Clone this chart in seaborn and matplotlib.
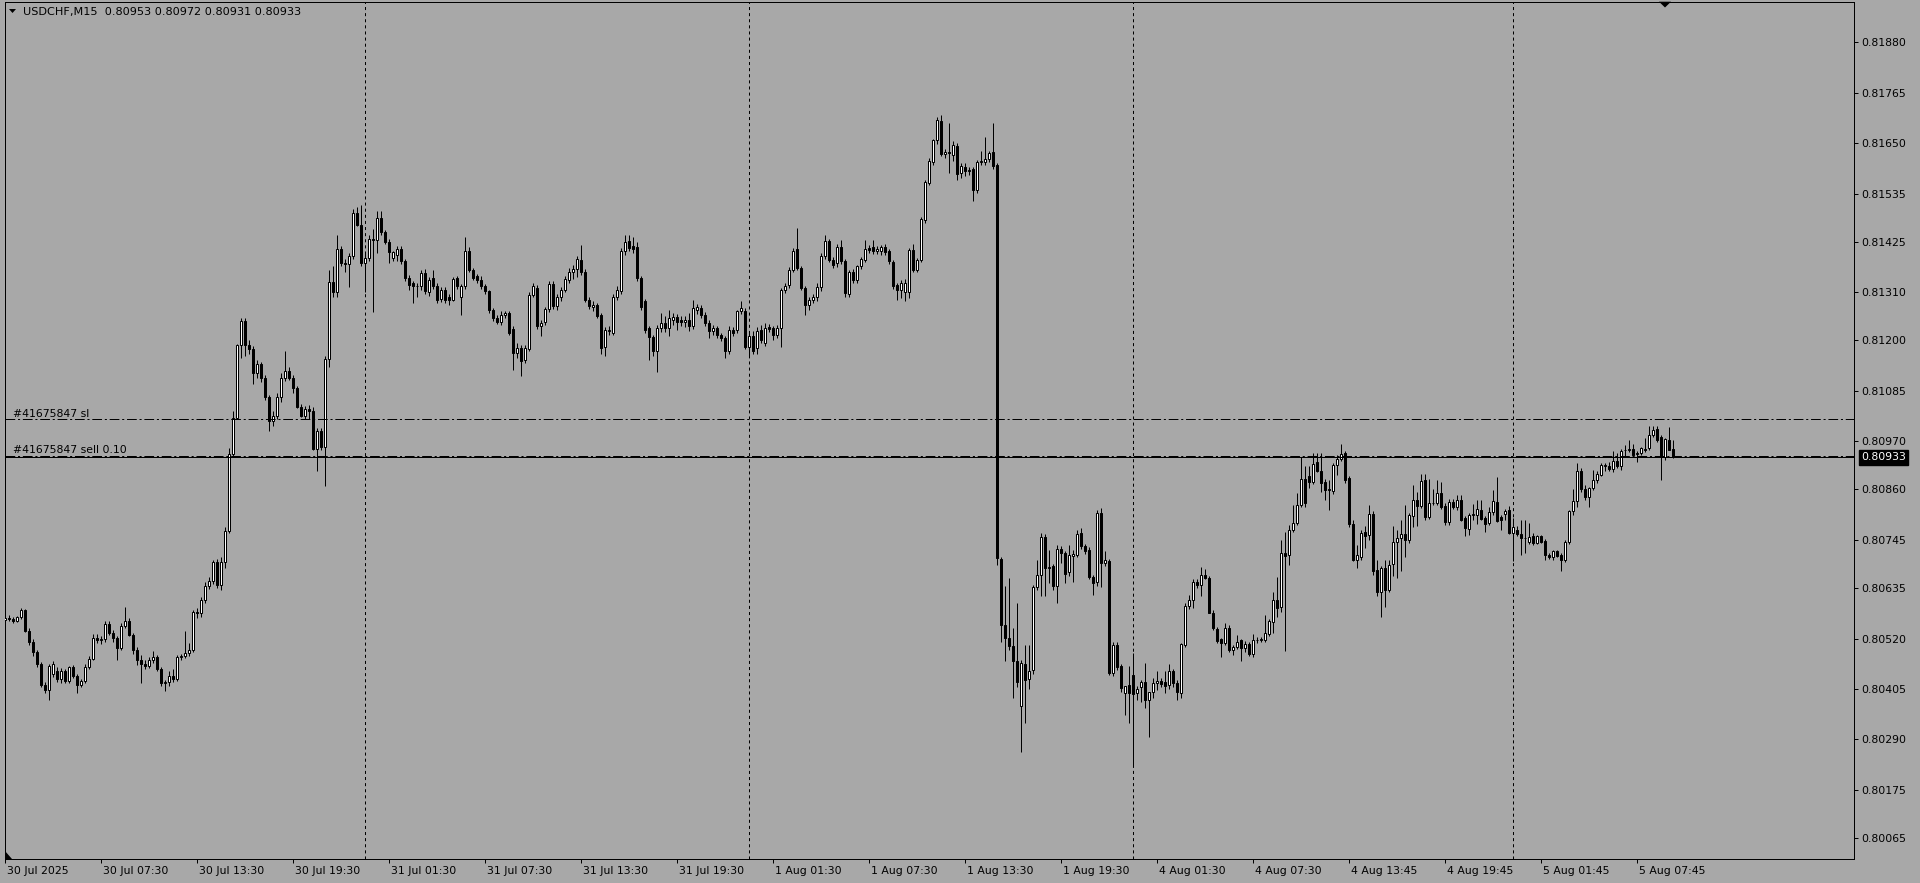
import numpy as np
import pandas as pd
import matplotlib
matplotlib.use("Agg")
import matplotlib.pyplot as plt
import matplotlib.transforms as mtransforms
from matplotlib.patches import Polygon
import seaborn as sns

# ---------------- data ----------------
title_text = "USDCHF,M15  0.80953 0.80972 0.80931 0.80933"

opens = [
    0.80563,0.80566,0.80564,0.80561,0.80568,0.80584,0.80537,0.80513,0.80490,0.80462,
    0.80415,0.80403,0.80440,0.80447,0.80427,0.80447,0.80423,0.80455,0.80435,0.80415,
    0.80423,0.80455,0.80474,0.80521,0.80517,0.80519,0.80553,0.80533,0.80521,0.80498,
    0.80549,0.80561,0.80529,0.80494,0.80470,0.80462,0.80458,0.80470,0.80478,0.80451,
    0.80419,0.80420,0.80435,0.80427,0.80478,0.80480,0.80486,0.80494,0.80580,0.80578,
    0.80608,0.80639,0.80651,0.80694,0.80643,0.80694,0.80765,0.80942,0.81024,0.81189,
    0.81244,0.81189,0.81181,0.81126,0.81146,0.81114,0.81071,0.81016,0.81028,0.81071,
    0.81114,0.81130,0.81114,0.81091,0.81048,0.81028,0.81044,0.81040,0.80953,0.80993,
    0.80957,0.81157,0.81334,0.81311,0.81409,0.81377,0.81374,0.81393,0.81491,0.81464,
    0.81377,0.81389,0.81432,0.81430,0.81480,0.81448,0.81425,0.81389,0.81395,0.81409,
    0.81381,0.81342,0.81330,0.81323,0.81323,0.81354,0.81310,0.81342,0.81323,0.81294,
    0.81316,0.81300,0.81293,0.81342,0.81300,0.81323,0.81403,0.81361,0.81346,0.81338,
    0.81323,0.81312,0.81270,0.81251,0.81243,0.81259,0.81262,0.81226,0.81171,0.81183,
    0.81156,0.81180,0.81304,0.81319,0.81232,0.81241,0.81271,0.81329,0.81278,0.81298,
    0.81316,0.81338,0.81357,0.81362,0.81384,0.81357,0.81293,0.81276,0.81281,0.81259,
    0.81186,0.81221,0.81218,0.81299,0.81312,0.81403,0.81426,0.81416,0.81414,0.81342,
    0.81291,0.81228,0.81208,0.81175,0.81228,0.81240,0.81228,0.81247,0.81253,0.81247,
    0.81243,0.81247,0.81232,0.81270,0.81274,0.81259,0.81240,0.81221,0.81228,0.81213,
    0.81205,0.81175,0.81224,0.81224,0.81266,0.81266,0.81186,0.81209,0.81183,0.81224,
    0.81194,0.81230,0.81228,0.81213,0.81228,0.81316,0.81327,0.81361,0.81408,0.81365,
    0.81319,0.81281,0.81293,0.81299,0.81322,0.81392,0.81426,0.81384,0.81376,0.81413,
    0.81380,0.81307,0.81357,0.81338,0.81369,0.81384,0.81411,0.81412,0.81403,0.81403,
    0.81414,0.81403,0.81379,0.81327,0.81316,0.81310,0.81310,0.81407,0.81361,0.81384,
    0.81475,0.81560,0.81608,0.81656,0.81701,0.81626,0.81629,0.81623,0.81644,0.81582,
    0.81595,0.81586,0.81591,0.81542,0.81608,0.81608,0.81614,0.81629,0.81600,0.80702,
    0.80551,0.80521,0.80503,0.80468,0.80365,0.80462,0.80427,0.80449,0.80637,0.80665,
    0.80751,0.80682,0.80686,0.80640,0.80725,0.80715,0.80671,0.80709,0.80711,0.80760,
    0.80730,0.80722,0.80661,0.80648,0.80806,0.80693,0.80697,0.80442,0.80506,0.80458,
    0.80395,0.80414,0.80437,0.80395,0.80409,0.80420,0.80380,0.80399,0.80418,0.80424,
    0.80420,0.80414,0.80445,0.80418,0.80395,0.80506,0.80595,0.80607,0.80650,0.80641,
    0.80665,0.80658,0.80579,0.80541,0.80518,0.80509,0.80544,0.80494,0.80500,0.80516,
    0.80498,0.80508,0.80485,0.80516,0.80517,0.80516,0.80531,0.80557,0.80608,0.80591,
    0.80716,0.80711,0.80768,0.80783,0.80825,0.80884,0.80890,0.80878,0.80922,0.80903,
    0.80878,0.80858,0.80856,0.80916,0.80929,0.80944,0.80886,0.80781,0.80700,0.80707,
    0.80762,0.80757,0.80804,0.80677,0.80625,0.80681,0.80631,0.80690,0.80740,0.80749,
    0.80758,0.80744,0.80800,0.80836,0.80823,0.80882,0.80798,0.80829,0.80830,0.80852,
    0.80823,0.80785,0.80831,0.80820,0.80836,0.80795,0.80770,0.80802,0.80802,0.80814,
    0.80796,0.80783,0.80808,0.80832,0.80797,0.80804,0.80814,0.80760,0.80768,0.80759,
    0.80749,0.80740,0.80753,0.80739,0.80753,0.80743,0.80711,0.80706,0.80720,0.80711,
    0.80700,0.80741,0.80812,0.80834,0.80903,0.80861,0.80843,0.80863,0.80881,0.80894,
    0.80914,0.80914,0.80906,0.80924,0.80914,0.80950,0.80951,0.80953,0.80941,0.80943,
    0.80952,0.80954,0.80985,0.80998,0.80979,0.80935,0.80972,0.80953,
]

highs = [
    0.80572,0.80574,0.80570,0.80572,0.80590,0.80588,0.80545,0.80518,0.80494,0.80466,
    0.80420,0.80462,0.80468,0.80455,0.80452,0.80450,0.80458,0.80460,0.80440,0.80428,
    0.80462,0.80480,0.80530,0.80530,0.80525,0.80560,0.80560,0.80540,0.80526,0.80555,
    0.80592,0.80566,0.80533,0.80500,0.80482,0.80470,0.80478,0.80492,0.80482,0.80455,
    0.80425,0.80445,0.80450,0.80482,0.80484,0.80537,0.80510,0.80584,0.80590,0.80615,
    0.80648,0.80660,0.80700,0.80702,0.80705,0.80775,0.80955,0.81040,0.81192,0.81250,
    0.81250,0.81200,0.81188,0.81155,0.81150,0.81120,0.81076,0.81040,0.81080,0.81125,
    0.81176,0.81140,0.81120,0.81095,0.81055,0.81050,0.81052,0.81048,0.81000,0.81000,
    0.81165,0.81360,0.81370,0.81440,0.81415,0.81385,0.81400,0.81500,0.81505,0.81510,
    0.81400,0.81440,0.81455,0.81495,0.81495,0.81452,0.81432,0.81405,0.81415,0.81415,
    0.81385,0.81350,0.81335,0.81330,0.81360,0.81362,0.81345,0.81361,0.81330,0.81322,
    0.81322,0.81305,0.81345,0.81348,0.81328,0.81437,0.81412,0.81366,0.81352,0.81346,
    0.81328,0.81316,0.81274,0.81258,0.81268,0.81266,0.81268,0.81232,0.81195,0.81190,
    0.81190,0.81310,0.81330,0.81326,0.81246,0.81276,0.81335,0.81336,0.81305,0.81322,
    0.81346,0.81365,0.81372,0.81392,0.81417,0.81362,0.81300,0.81290,0.81286,0.81263,
    0.81230,0.81232,0.81305,0.81325,0.81410,0.81440,0.81440,0.81437,0.81425,0.81348,
    0.81295,0.81232,0.81212,0.81236,0.81262,0.81255,0.81270,0.81262,0.81260,0.81255,
    0.81256,0.81262,0.81293,0.81282,0.81280,0.81265,0.81247,0.81236,0.81232,0.81218,
    0.81210,0.81232,0.81230,0.81270,0.81289,0.81274,0.81216,0.81222,0.81230,0.81235,
    0.81240,0.81238,0.81234,0.81236,0.81320,0.81330,0.81368,0.81410,0.81456,0.81370,
    0.81325,0.81300,0.81306,0.81330,0.81400,0.81440,0.81432,0.81390,0.81420,0.81428,
    0.81385,0.81360,0.81362,0.81372,0.81390,0.81428,0.81418,0.81428,0.81416,0.81418,
    0.81420,0.81408,0.81384,0.81332,0.81338,0.81340,0.81410,0.81420,0.81388,0.81482,
    0.81565,0.81615,0.81660,0.81710,0.81715,0.81636,0.81696,0.81655,0.81650,0.81605,
    0.81605,0.81596,0.81596,0.81612,0.81631,0.81665,0.81632,0.81696,0.81605,0.80707,
    0.80639,0.80658,0.80544,0.80601,0.80470,0.80506,0.80506,0.80642,0.80699,0.80760,
    0.80758,0.80722,0.80690,0.80734,0.80732,0.80720,0.80734,0.80722,0.80768,0.80772,
    0.80736,0.80728,0.80666,0.80814,0.80817,0.80720,0.80702,0.80513,0.80512,0.80462,
    0.80412,0.80458,0.80487,0.80411,0.80425,0.80465,0.80399,0.80430,0.80447,0.80430,
    0.80445,0.80462,0.80450,0.80425,0.80510,0.80600,0.80620,0.80655,0.80655,0.80683,
    0.80678,0.80662,0.80585,0.80546,0.80522,0.80555,0.80550,0.80506,0.80528,0.80520,
    0.80515,0.80512,0.80531,0.80523,0.80524,0.80574,0.80565,0.80627,0.80661,0.80745,
    0.80764,0.80779,0.80825,0.80852,0.80935,0.80913,0.80914,0.80943,0.80943,0.80943,
    0.80884,0.80882,0.80920,0.80939,0.80964,0.80947,0.80890,0.80791,0.80734,0.80768,
    0.80776,0.80825,0.80810,0.80700,0.80685,0.80700,0.80700,0.80777,0.80768,0.80791,
    0.80825,0.80806,0.80871,0.80854,0.80896,0.80895,0.80884,0.80862,0.80882,0.80878,
    0.80828,0.80838,0.80838,0.80848,0.80848,0.80800,0.80806,0.80827,0.80836,0.80836,
    0.80800,0.80820,0.80859,0.80888,0.80802,0.80815,0.80823,0.80795,0.80776,0.80791,
    0.80791,0.80783,0.80760,0.80756,0.80757,0.80748,0.80715,0.80722,0.80722,0.80715,
    0.80745,0.80814,0.80861,0.80920,0.80908,0.80871,0.80866,0.80905,0.80901,0.80920,
    0.80920,0.80922,0.80947,0.80944,0.80952,0.80962,0.80972,0.80964,0.80948,0.80958,
    0.80977,0.81004,0.81005,0.81005,0.80985,0.80978,0.81002,0.80972,
]

lows = [
    0.80555,0.80560,0.80556,0.80558,0.80565,0.80535,0.80505,0.80480,0.80455,0.80410,
    0.80396,0.80380,0.80432,0.80420,0.80418,0.80418,0.80418,0.80430,0.80396,0.80410,
    0.80418,0.80450,0.80470,0.80510,0.80508,0.80512,0.80528,0.80512,0.80470,0.80494,
    0.80545,0.80525,0.80485,0.80460,0.80419,0.80450,0.80452,0.80465,0.80445,0.80412,
    0.80400,0.80412,0.80420,0.80424,0.80472,0.80476,0.80480,0.80490,0.80566,0.80570,
    0.80600,0.80632,0.80645,0.80636,0.80630,0.80680,0.80760,0.80935,0.81020,0.81160,
    0.81165,0.81170,0.81100,0.81115,0.81105,0.81065,0.80993,0.81005,0.81020,0.81060,
    0.81108,0.81110,0.81080,0.81045,0.81025,0.81020,0.81020,0.80950,0.80902,0.80950,
    0.80867,0.81140,0.81300,0.81300,0.81370,0.81355,0.81322,0.81385,0.81460,0.81370,
    0.81310,0.81380,0.81264,0.81400,0.81440,0.81420,0.81377,0.81380,0.81382,0.81375,
    0.81335,0.81315,0.81285,0.81300,0.81316,0.81305,0.81302,0.81318,0.81285,0.81288,
    0.81286,0.81280,0.81290,0.81318,0.81259,0.81318,0.81355,0.81338,0.81332,0.81318,
    0.81305,0.81262,0.81245,0.81238,0.81236,0.81250,0.81212,0.81133,0.81160,0.81118,
    0.81148,0.81175,0.81298,0.81225,0.81210,0.81236,0.81265,0.81272,0.81270,0.81290,
    0.81310,0.81330,0.81340,0.81345,0.81350,0.81288,0.81272,0.81268,0.81252,0.81168,
    0.81165,0.81212,0.81212,0.81292,0.81306,0.81395,0.81405,0.81400,0.81335,0.81270,
    0.81218,0.81156,0.81165,0.81129,0.81220,0.81220,0.81210,0.81236,0.81224,0.81232,
    0.81230,0.81222,0.81226,0.81260,0.81250,0.81232,0.81205,0.81212,0.81205,0.81198,
    0.81160,0.81168,0.81210,0.81218,0.81260,0.81180,0.81165,0.81168,0.81170,0.81195,
    0.81188,0.81220,0.81200,0.81205,0.81186,0.81308,0.81320,0.81355,0.81360,0.81315,
    0.81259,0.81270,0.81285,0.81290,0.81312,0.81385,0.81378,0.81365,0.81368,0.81375,
    0.81300,0.81300,0.81332,0.81330,0.81362,0.81378,0.81400,0.81398,0.81396,0.81395,
    0.81395,0.81375,0.81318,0.81293,0.81296,0.81290,0.81296,0.81355,0.81355,0.81378,
    0.81468,0.81555,0.81600,0.81648,0.81620,0.81615,0.81583,0.81610,0.81567,0.81570,
    0.81575,0.81578,0.81517,0.81536,0.81600,0.81600,0.81608,0.81590,0.80688,0.80513,
    0.80468,0.80494,0.80384,0.80410,0.80262,0.80328,0.80405,0.80440,0.80630,0.80616,
    0.80617,0.80646,0.80631,0.80602,0.80692,0.80646,0.80662,0.80648,0.80705,0.80725,
    0.80712,0.80655,0.80620,0.80640,0.80637,0.80685,0.80436,0.80435,0.80449,0.80397,
    0.80346,0.80328,0.80228,0.80380,0.80376,0.80361,0.80295,0.80384,0.80403,0.80410,
    0.80395,0.80405,0.80410,0.80379,0.80384,0.80500,0.80588,0.80589,0.80635,0.80616,
    0.80655,0.80578,0.80540,0.80510,0.80479,0.80505,0.80490,0.80483,0.80495,0.80468,
    0.80490,0.80480,0.80478,0.80510,0.80512,0.80512,0.80525,0.80532,0.80570,0.80580,
    0.80491,0.80688,0.80764,0.80779,0.80821,0.80820,0.80863,0.80872,0.80900,0.80855,
    0.80836,0.80814,0.80850,0.80894,0.80925,0.80874,0.80775,0.80696,0.80681,0.80700,
    0.80726,0.80745,0.80665,0.80617,0.80569,0.80593,0.80625,0.80662,0.80658,0.80673,
    0.80707,0.80738,0.80774,0.80777,0.80818,0.80790,0.80792,0.80824,0.80825,0.80815,
    0.80780,0.80779,0.80815,0.80814,0.80788,0.80754,0.80757,0.80791,0.80782,0.80790,
    0.80764,0.80778,0.80802,0.80785,0.80768,0.80791,0.80758,0.80696,0.80753,0.80711,
    0.80715,0.80735,0.80734,0.80736,0.80738,0.80700,0.80701,0.80700,0.80705,0.80675,
    0.80694,0.80736,0.80802,0.80820,0.80855,0.80836,0.80821,0.80858,0.80875,0.80890,
    0.80901,0.80902,0.80900,0.80910,0.80905,0.80935,0.80945,0.80935,0.80922,0.80938,
    0.80945,0.80950,0.80980,0.80968,0.80882,0.80928,0.80950,0.80931,
]

closes = [
    0.80566,0.80564,0.80561,0.80568,0.80584,0.80537,0.80513,0.80490,0.80462,0.80415,
    0.80403,0.80458,0.80462,0.80427,0.80447,0.80423,0.80455,0.80435,0.80415,0.80423,
    0.80455,0.80474,0.80521,0.80517,0.80519,0.80553,0.80533,0.80521,0.80498,0.80549,
    0.80561,0.80529,0.80494,0.80470,0.80462,0.80458,0.80470,0.80478,0.80451,0.80419,
    0.80420,0.80435,0.80427,0.80478,0.80480,0.80486,0.80494,0.80580,0.80578,0.80608,
    0.80639,0.80651,0.80694,0.80643,0.80694,0.80765,0.80942,0.81024,0.81189,0.81244,
    0.81189,0.81181,0.81126,0.81146,0.81114,0.81071,0.81016,0.81028,0.81071,0.81114,
    0.81130,0.81114,0.81091,0.81048,0.81028,0.81044,0.81040,0.80953,0.80993,0.80957,
    0.81157,0.81334,0.81311,0.81409,0.81377,0.81374,0.81393,0.81491,0.81464,0.81377,
    0.81389,0.81432,0.81430,0.81480,0.81448,0.81425,0.81401,0.81401,0.81409,0.81381,
    0.81342,0.81326,0.81323,0.81325,0.81354,0.81312,0.81338,0.81323,0.81293,0.81316,
    0.81293,0.81293,0.81340,0.81323,0.81323,0.81403,0.81361,0.81342,0.81338,0.81323,
    0.81312,0.81270,0.81251,0.81243,0.81259,0.81262,0.81217,0.81171,0.81183,0.81154,
    0.81183,0.81304,0.81323,0.81234,0.81240,0.81271,0.81329,0.81278,0.81298,0.81316,
    0.81340,0.81357,0.81362,0.81386,0.81355,0.81293,0.81278,0.81281,0.81255,0.81183,
    0.81223,0.81224,0.81299,0.81316,0.81403,0.81424,0.81411,0.81408,0.81342,0.81276,
    0.81224,0.81208,0.81175,0.81228,0.81240,0.81228,0.81251,0.81253,0.81241,0.81241,
    0.81247,0.81232,0.81274,0.81276,0.81259,0.81240,0.81221,0.81228,0.81213,0.81205,
    0.81175,0.81224,0.81218,0.81266,0.81274,0.81186,0.81209,0.81175,0.81222,0.81202,
    0.81228,0.81226,0.81213,0.81228,0.81314,0.81323,0.81360,0.81405,0.81365,0.81319,
    0.81281,0.81293,0.81300,0.81322,0.81392,0.81426,0.81384,0.81373,0.81413,0.81380,
    0.81308,0.81357,0.81338,0.81369,0.81386,0.81408,0.81407,0.81405,0.81408,0.81413,
    0.81401,0.81380,0.81325,0.81316,0.81331,0.81332,0.81407,0.81361,0.81384,0.81477,
    0.81561,0.81610,0.81656,0.81702,0.81626,0.81629,0.81627,0.81645,0.81580,0.81598,
    0.81586,0.81588,0.81542,0.81607,0.81610,0.81614,0.81627,0.81597,0.80703,0.80551,
    0.80521,0.80502,0.80468,0.80420,0.80465,0.80426,0.80446,0.80637,0.80665,0.80751,
    0.80682,0.80684,0.80640,0.80725,0.80715,0.80667,0.80711,0.80713,0.80759,0.80730,
    0.80719,0.80661,0.80646,0.80806,0.80693,0.80698,0.80441,0.80506,0.80456,0.80407,
    0.80412,0.80395,0.80393,0.80405,0.80420,0.80380,0.80399,0.80418,0.80424,0.80417,
    0.80411,0.80445,0.80418,0.80397,0.80507,0.80595,0.80608,0.80648,0.80641,0.80665,
    0.80658,0.80579,0.80544,0.80515,0.80509,0.80544,0.80494,0.80500,0.80513,0.80498,
    0.80508,0.80485,0.80516,0.80517,0.80519,0.80532,0.80559,0.80607,0.80589,0.80716,
    0.80709,0.80768,0.80783,0.80825,0.80884,0.80830,0.80878,0.80918,0.80903,0.80874,
    0.80858,0.80860,0.80916,0.80929,0.80941,0.80882,0.80781,0.80700,0.80711,0.80760,
    0.80754,0.80804,0.80673,0.80625,0.80681,0.80631,0.80687,0.80740,0.80749,0.80758,
    0.80744,0.80802,0.80836,0.80823,0.80880,0.80797,0.80829,0.80830,0.80852,0.80821,
    0.80785,0.80831,0.80820,0.80836,0.80791,0.80772,0.80801,0.80804,0.80815,0.80792,
    0.80782,0.80808,0.80834,0.80789,0.80791,0.80812,0.80760,0.80774,0.80759,0.80749,
    0.80750,0.80751,0.80738,0.80753,0.80741,0.80710,0.80706,0.80719,0.80709,0.80700,
    0.80741,0.80810,0.80834,0.80903,0.80861,0.80843,0.80863,0.80881,0.80896,0.80916,
    0.80916,0.80906,0.80924,0.80914,0.80947,0.80951,0.80953,0.80939,0.80943,0.80954,
    0.80951,0.80985,0.80996,0.80973,0.80934,0.80975,0.80951,0.80933,
]

time_labels = ["30 Jul 2025", "30 Jul 07:30", "30 Jul 13:30", "30 Jul 19:30",
               "31 Jul 01:30", "31 Jul 07:30", "31 Jul 13:30", "31 Jul 19:30",
               "1 Aug 01:30", "1 Aug 07:30", "1 Aug 13:30", "1 Aug 19:30",
               "4 Aug 01:30", "4 Aug 07:30", "4 Aug 13:45", "4 Aug 19:45",
               "5 Aug 01:45", "5 Aug 07:45"]
bars_per_label = 24
day_start_bars = [90, 186, 282, 377]

price_ticks = [0.81880, 0.81765, 0.81650, 0.81535, 0.81425, 0.81310, 0.81200,
               0.81085, 0.80970, 0.80860, 0.80745, 0.80635, 0.80520, 0.80405,
               0.80290, 0.80175, 0.80065]
bid_price = 0.80933
sl_price = 0.81020
sell_price = 0.80937
sl_label = "#41675847 sl"
sell_label = "#41675847 sell 0.10"

assert len(opens) == len(highs) == len(lows) == len(closes), (len(opens), len(highs), len(lows), len(closes))

# ---------------- style ----------------
sns.set_theme(style="white")
BG = "#A8A8A8"
plt.rcParams['font.family'] = ['DejaVu Sans']
plt.rcParams['lines.scale_dashes'] = False
plt.rcParams['axes.edgecolor'] = 'black'
plt.rcParams['axes.linewidth'] = 0.72
LW = 0.72
FS = 7.8

W, H = 1920, 883
fig = plt.figure(figsize=(W / 100, H / 100), dpi=100, facecolor=BG)

def fx(x):
    return x / W

def fy(y):
    return 1 - y / H

ax_l, ax_r, ax_t, ax_b = 4.5, 1854.0, 1.7, 859.0
ax = fig.add_axes([fx(ax_l), fy(ax_b), (ax_r - ax_l) / W, (ax_b - ax_t) / H])
ax.set_facecolor(BG)

df = pd.DataFrame({"open": opens, "high": highs, "low": lows, "close": closes})
df["bar"] = np.arange(len(df))
up = df[df["close"] >= df["open"]]
dn = df[df["close"] < df["open"]]

# period separators
for d in day_start_bars:
    ax.axvline(d, color="black", lw=LW, ls=(0, (2.2, 2.2)), zorder=1)

# candles
ax.vlines(df["bar"], df["low"], df["high"], colors="black", linewidth=LW, zorder=2)
ax.bar(up["bar"], up["close"] - up["open"], bottom=up["open"], width=0.5,
       color="white", edgecolor="black", linewidth=LW, zorder=3)
ax.bar(dn["bar"], dn["open"] - dn["close"], bottom=dn["close"], width=0.5,
       color="black", edgecolor="black", linewidth=LW, zorder=3)

# order / price lines
dashdot = (0, (7, 2, 1.5, 2))
ax.axhline(sl_price, color="black", lw=LW, ls=dashdot, zorder=4)
ax.axhline(sell_price, color="black", lw=LW, ls=dashdot, zorder=4)
ax.axhline(bid_price, color="black", lw=LW, ls="-", zorder=4)

blend = mtransforms.blended_transform_factory(ax.transAxes, ax.transData)
up_off = mtransforms.ScaledTranslation(0, 2.5 / 100, fig.dpi_scale_trans)
xlab = (13 - ax_l) / (ax_r - ax_l)
ax.text(xlab, sl_price, sl_label, transform=blend + up_off, fontsize=FS,
        color="black", ha="left", va="baseline", zorder=5)
ax.text(xlab, sell_price, sell_label, transform=blend + up_off, fontsize=FS,
        color="black", ha="left", va="baseline", zorder=5)

# bid price box on the scale
ax.text(1 + 7.0 / (ax_r - ax_l), bid_price, f"{bid_price:.5f}", transform=blend,
        fontsize=FS, color="white", ha="left", va="center", clip_on=False,
        bbox=dict(boxstyle="square,pad=0.2", fc="black", ec="black"), zorder=6)

# limits: 4 px per bar, price scale
ax.set_xlim(-0.125, -0.125 + (ax_r - ax_l) / 4.0)
ax.set_ylim(0.800171, 0.819726)

# axes ticks
ax.yaxis.tick_right()
ax.set_yticks(price_ticks, labels=[f"{v:.5f}" for v in price_ticks])
ax.tick_params(axis="y", which="both", direction="out", length=3, width=LW,
               pad=2.5, labelsize=FS, colors="black", right=True, left=False)
tick_pos = np.arange(len(time_labels)) * bars_per_label
ax.set_xticks(tick_pos, labels=time_labels)
ax.tick_params(axis="x", which="both", direction="out", length=3, width=LW,
               pad=2.0, labelsize=FS, colors="black", bottom=True)
shift = mtransforms.ScaledTranslation(2 / 100, 0, fig.dpi_scale_trans)
for lbl in ax.get_xticklabels():
    lbl.set_horizontalalignment("left")
    lbl.set_transform(lbl.get_transform() + shift)
ax.grid(False)
for s in ax.spines.values():
    s.set_color("black")
    s.set_linewidth(LW)

# title and small markers
fig.text(fx(23), fy(11.5), title_text, fontsize=8.1, color="black", ha="left", va="center")
fig.add_artist(Polygon([(fx(9), fy(9)), (fx(16), fy(9)), (fx(12.5), fy(13))],
                       closed=True, transform=fig.transFigure, fc="black", ec="none"))
fig.add_artist(Polygon([(fx(1659), fy(1.7)), (fx(1671), fy(1.7)), (fx(1665), fy(7.5))],
                       closed=True, transform=fig.transFigure, fc="black", ec="none"))
fig.add_artist(Polygon([(fx(5), fy(851)), (fx(5), fy(858.5)), (fx(12), fy(858.5))],
                       closed=True, transform=fig.transFigure, fc="black", ec="none"))

fig.savefig("out.png", dpi=100, facecolor=BG)
